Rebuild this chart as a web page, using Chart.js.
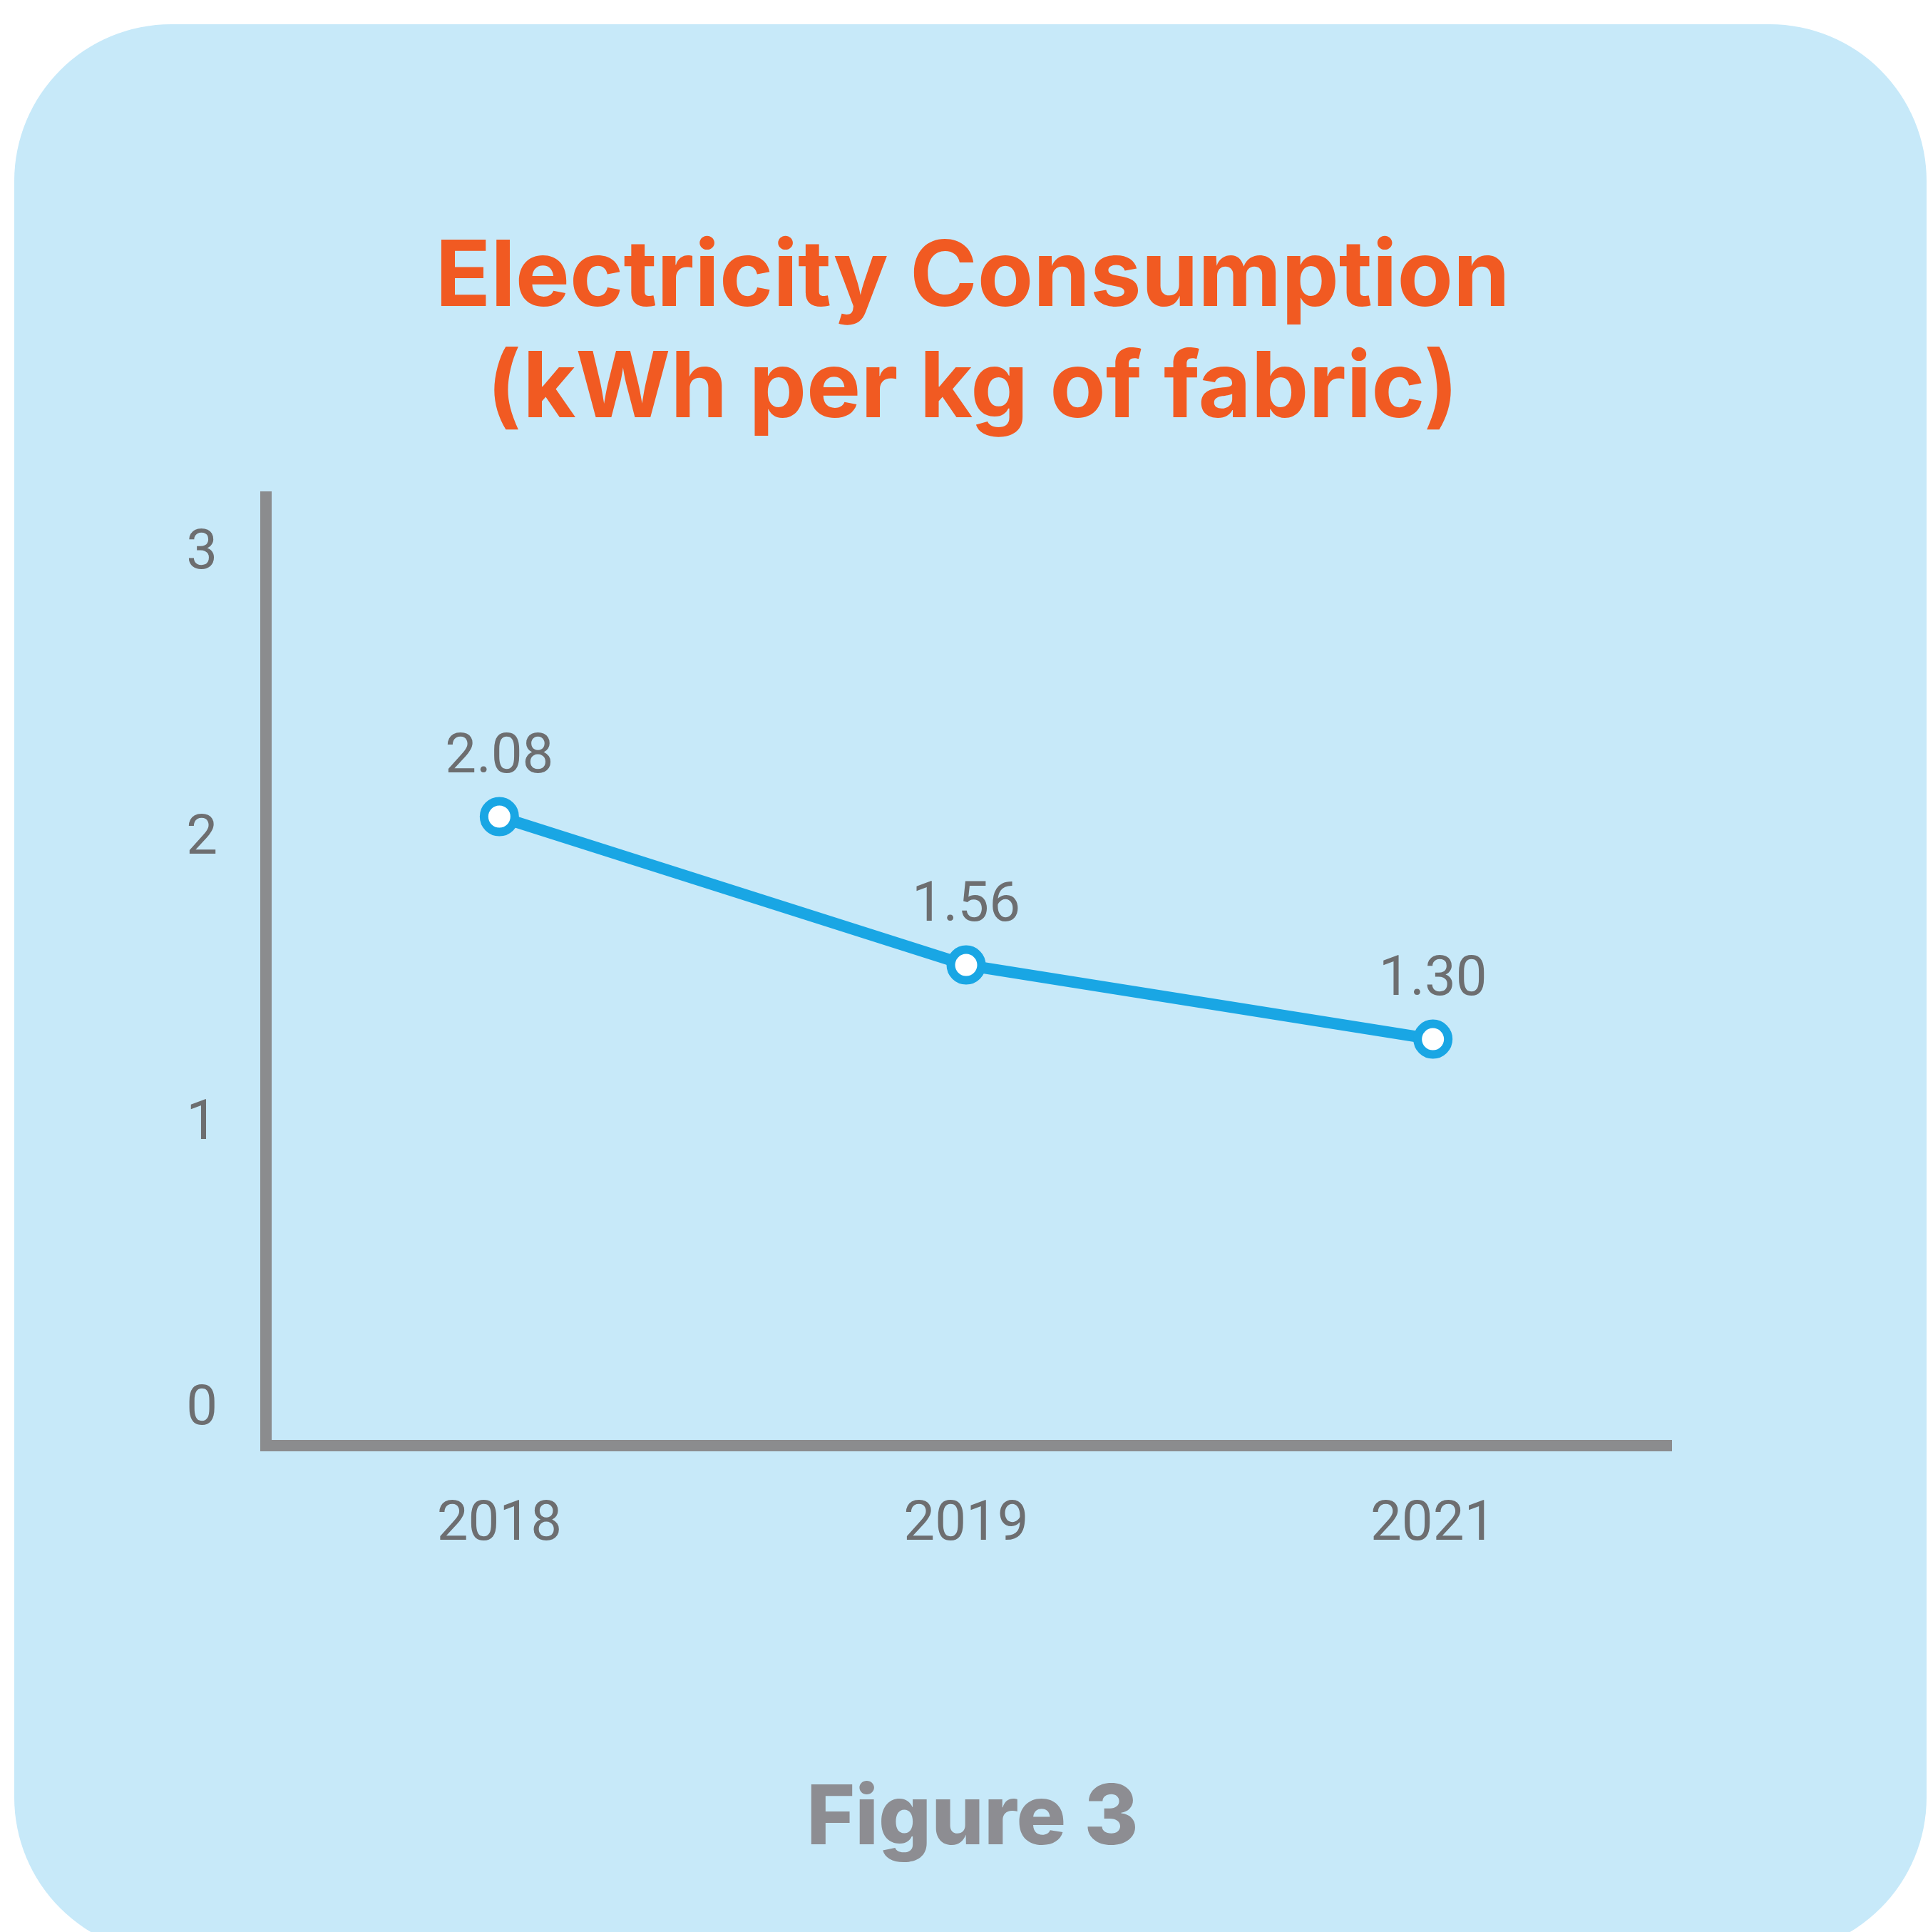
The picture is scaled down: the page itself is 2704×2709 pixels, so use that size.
<!DOCTYPE html>
<html>
<head>
<meta charset="utf-8">
<title>Electricity Consumption</title>
<script src="https://cdn.jsdelivr.net/npm/chart.js@4.4.1/dist/chart.umd.min.js"></script>
<style>
  html, body { margin: 0; padding: 0; background: #ffffff; }
  canvas { display: block; }
</style>
</head>
<body>
<canvas id="chart" width="2704" height="2709"></canvas>
<script>
// Data
const years = ['2018', '2019', '2021'];
const kwhPerKg = [2.08, 1.56, 1.30];
const yTicks = [0, 1, 2, 3];
const titleLines = ['Electricity Consumption', '(kWh per kg of fabric)'];
const figureLabel = 'Figure 3';

const BLUE = '#19a6e4';
const AXIS_GREY = '#8b8c8e';
const TEXT_GREY = '#6d6e70';
const LABEL_FONT = { family: 'Roboto', size: 78, weight: 400 };

// Light blue rounded card behind everything
const panel = {
  id: 'panel',
  beforeDraw(chart) {
    const ctx = chart.ctx;
    ctx.save();
    ctx.fillStyle = '#c7e9f9';
    ctx.beginPath();
    ctx.roundRect(20, 34, 2682, 2706, 220);
    ctx.fill();
    ctx.restore();
  }
};

// Value printed above each point
const valueLabels = {
  id: 'valueLabels',
  afterDatasetsDraw(chart) {
    const ctx = chart.ctx;
    const ds = chart.data.datasets[0];
    const meta = chart.getDatasetMeta(0);
    ctx.save();
    ctx.font = `${LABEL_FONT.weight} ${LABEL_FONT.size}px ${LABEL_FONT.family}`;
    ctx.fillStyle = TEXT_GREY;
    ctx.textAlign = 'center';
    ctx.textBaseline = 'middle';
    meta.data.forEach((pt, i) => {
      ctx.fillText(ds.data[i].toFixed(2), pt.x, pt.y - 82);
    });
    ctx.restore();
  }
};

new Chart(document.getElementById('chart'), {
  type: 'line',
  data: {
    labels: years,
    datasets: [{
      data: kwhPerKg,
      yAxisID: 'y',
      borderColor: BLUE,
      borderWidth: 16,
      tension: 0,
      pointRadius: 21.5,
      pointBorderWidth: 12,
      pointBackgroundColor: '#ffffff',
      pointBorderColor: BLUE,
      clip: false
    }]
  },
  options: {
    responsive: false,
    devicePixelRatio: 1,
    animation: false,
    layout: { padding: { top: 206, left: 40, right: 16, bottom: 88 } },
    plugins: {
      legend: { display: false },
      tooltip: { enabled: false },
      title: {
        display: true,
        text: titleLines,
        color: '#f15a22',
        font: { family: 'Inter', size: 128, weight: 700, lineHeight: '156px' },
        padding: { top: 107, bottom: 72 }
      },
      subtitle: {
        display: true,
        position: 'bottom',
        text: figureLabel,
        color: '#8d8d92',
        font: { family: 'Inter', size: 116, weight: 800, lineHeight: 1.2 },
        padding: { top: 231, bottom: 0 }
      }
    },
    scales: {
      x: {
        offset: true,
        grid: { display: false, drawTicks: false, lineWidth: 16 },
        border: { display: true, width: 16, color: AXIS_GREY },
        ticks: { color: TEXT_GREY, font: LABEL_FONT, padding: 65 }
      },
      y: {
        min: -0.125,
        max: 3.2,
        afterBuildTicks: (scale) => { scale.ticks = yTicks.map(v => ({ value: v })); },
        afterFit: (scale) => { scale.width = 333; },
        grid: { display: false, drawTicks: false, lineWidth: 16 },
        border: { display: true, width: 16, color: AXIS_GREY },
        ticks: { color: TEXT_GREY, font: LABEL_FONT, padding: 68 }
      },
      // empty margin on the right of the plot
      yPad: {
        type: 'linear',
        position: 'right',
        grid: { display: false, drawTicks: false },
        border: { display: false },
        ticks: { display: false },
        afterFit: (scale) => { scale.width = 351; }
      }
    }
  },
  plugins: [panel, valueLabels]
});
</script>
</body>
</html>
